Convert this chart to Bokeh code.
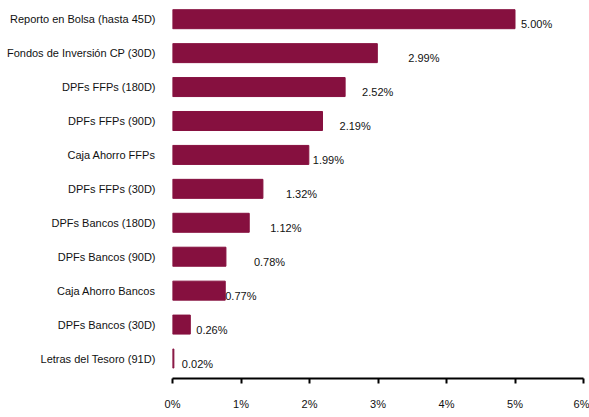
from bokeh.plotting import figure
from bokeh.models import FixedTicker, ColumnDataSource, Range1d
from bokeh.core.properties import value
from bokeh.embed import file_html
from bokeh.resources import INLINE

# ---- data (bottom to top) ----
categories = [
    "Letras del Tesoro (91D)",
    "DPFs Bancos (30D)",
    "Caja Ahorro Bancos",
    "DPFs Bancos (90D)",
    "DPFs Bancos (180D)",
    "DPFs FFPs (30D)",
    "Caja Ahorro FFPs",
    "DPFs FFPs (90D)",
    "DPFs FFPs (180D)",
    "Fondos de Inversión CP (30D)",
    "Reporto en Bolsa (hasta 45D)",
]
rates = [0.02, 0.26, 0.77, 0.78, 1.12, 1.32, 1.99, 2.19, 2.52, 2.99, 5.00]
x_ticks = [0, 1, 2, 3, 4, 5, 6]
x_tick_labels = ["0%", "1%", "2%", "3%", "4%", "5%", "6%"]

# label styling (pixel offsets of the value labels, as in the original)
label_dx = [8, 6, 0, 28, 21, 23, 4, 17, 17, 31, 6]

FONT = "Liberation Sans"
BAR = "#86103f"
TXT = "#111111"

ypos = list(range(len(categories)))
src = ColumnDataSource(dict(
    y=ypos, v=rates,
    lab=[f"{r:.2f}%" for r in rates],
    dx=label_dx,
))

p = figure(width=589, height=417, output_backend="svg", toolbar_location=None,
           x_range=Range1d(0, 6), y_range=Range1d(-0.589, 10.551),
           min_border_left=172, min_border_right=6, min_border_top=0,
           min_border_bottom=39)
p.outline_line_color = None
p.xgrid.grid_line_color = None
p.ygrid.grid_line_color = None
p.background_fill_color = "white"
p.border_fill_color = "white"

p.hbar(y="y", left=0, right="v", height=0.56, color=BAR, source=src)
p.text(x="v", y="y", text="lab", x_offset="dx", y_offset=5, source=src,
       text_font=value(FONT), text_font_size="11px", text_color=TXT,
       text_align="left", text_baseline="middle")

# x axis
xa = p.xaxis[0]
xa.ticker = FixedTicker(ticks=x_ticks)
xa.major_label_overrides = {t: l for t, l in zip(x_ticks, x_tick_labels)}
xa.axis_line_color = "black"
xa.axis_line_width = 2
xa.major_tick_line_color = "black"
xa.major_tick_line_width = 2
xa.major_tick_in = 0
xa.major_tick_out = 5
xa.minor_tick_line_color = None
xa.major_label_standoff = 14
xa.major_label_text_font = FONT
xa.major_label_text_font_size = "11px"
xa.major_label_text_color = TXT

# y axis (category labels)
ya = p.yaxis[0]
ya.ticker = FixedTicker(ticks=ypos)
ya.major_label_overrides = {float(i): c for i, c in zip(ypos, categories)}
ya.axis_line_color = None
ya.major_tick_line_color = None
ya.minor_tick_line_color = None
ya.major_label_standoff = 11
ya.major_label_text_font = FONT
ya.major_label_text_font_size = "11px"
ya.major_label_text_color = TXT

open("out.html", "w").write(file_html(p, INLINE))
